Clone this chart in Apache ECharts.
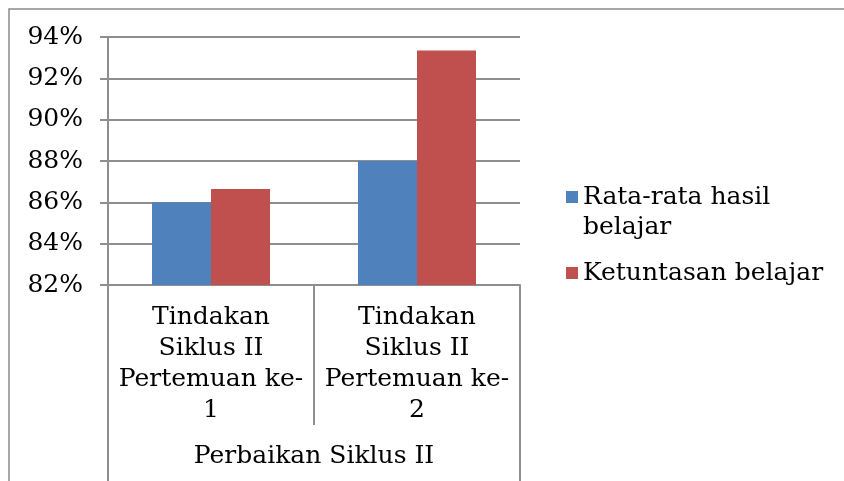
<!DOCTYPE html>
<html>
<head>
<meta charset="utf-8">
<script src="https://cdn.jsdelivr.net/npm/echarts@6/dist/echarts.min.js"></script>
<style>
  html, body { margin: 0; padding: 0; background: #fff; }
  #chart { width: 844px; height: 481px; }
</style>
</head>
<body>
<div id="chart"></div>
<script>
// data
var categories = ['Tindakan\nSiklus II\nPertemuan ke-\n1', 'Tindakan\nSiklus II\nPertemuan ke-\n2'];
var groupLabels = ['Perbaikan Siklus II'];
var seriesNames = ['Rata-rata hasil belajar', 'Ketuntasan belajar'];
var rataRata = [86.0, 88.0];
var ketuntasan = [86.65, 93.35];
var yTicks = [82, 84, 86, 88, 90, 92, 94];

var chart = echarts.init(document.getElementById('chart'));
var font = 'DejaVu Serif';
var gray = '#8e8e8e';
var fs = 25;

var option = {
  animation: false,
  textStyle: { fontFamily: font },
  color: ['#4F81BD', '#C0504D'],
  graphic: [{
    type: 'rect',
    shape: { x: 9, y: 9, width: 900, height: 600 },
    style: { fill: 'none', stroke: '#8a8a8a', lineWidth: 1.5 },
    silent: true
  }],
  legend: {
    orient: 'vertical',
    left: 566,
    top: 152,
    padding: 0,
    itemWidth: 12,
    itemHeight: 12,
    itemGap: 16,
    icon: 'rect',
    data: seriesNames,
    formatter: function (name) {
      // blank first line keeps the marker level with the first text line
      return name === seriesNames[0] ? ' \nRata-rata hasil\nbelajar' : name;
    },
    textStyle: {
      fontFamily: font,
      fontSize: fs,
      color: '#000',
      lineHeight: 30
    }
  },
  grid: { left: 108, right: 324, top: 37, bottom: 196 },
  xAxis: [{
    type: 'category',
    data: categories,
    position: 'bottom',
    axisLine: { lineStyle: { color: gray, width: 2 } },
    axisTick: { show: true, length: 140, lineStyle: { color: gray, width: 2 } },
    axisLabel: {
      interval: 0,
      margin: 17,
      color: '#000',
      fontFamily: font,
      fontSize: fs,
      lineHeight: 31
    }
  }, {
    type: 'category',
    data: groupLabels,
    position: 'bottom',
    axisLine: { show: false },
    axisTick: { show: true, length: 196, lineStyle: { color: gray, width: 2 } },
    axisLabel: {
      margin: 159,
      color: '#000',
      fontFamily: font,
      fontSize: fs
    }
  }],
  yAxis: {
    type: 'value',
    min: yTicks[0],
    max: yTicks[yTicks.length - 1],
    interval: 2,
    axisLine: { show: true, lineStyle: { color: gray, width: 2 } },
    axisTick: { show: true, length: 8, lineStyle: { color: gray, width: 2 } },
    splitLine: { lineStyle: { color: gray, width: 2 } },
    axisLabel: {
      margin: 25,
      color: '#000',
      fontFamily: font,
      fontSize: fs,
      formatter: '{value}%'
    }
  },
  series: [{
    name: seriesNames[0],
    type: 'bar',
    data: rataRata,
    barWidth: 59,
    barGap: '0%'
  }, {
    name: seriesNames[1],
    type: 'bar',
    data: ketuntasan,
    barWidth: 59,
    barGap: '0%'
  }]
};

chart.setOption(option);
</script>
</body>
</html>
